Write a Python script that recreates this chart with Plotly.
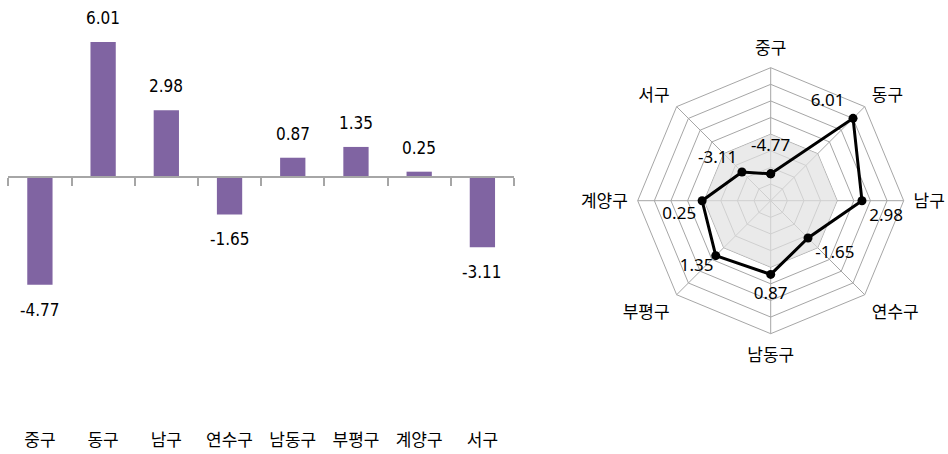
import plotly.graph_objects as go

categories = ["중구", "동구", "남구", "연수구", "남동구", "부평구", "계양구", "서구"]
values = [-4.77, 6.01, 2.98, -1.65, 0.87, 1.35, 0.25, -3.11]
value_labels = ["-4.77", "6.01", "2.98", "-1.65", "0.87", "1.35", "0.25", "-3.11"]
radar_text_pos = ["top center", "top left", "bottom right", "bottom right",
                  "bottom center", "bottom left", "bottom left", "top left"]
radar_text_pad = [28, 12, 10, 10, 18, 2, 8, 6]  # invisible marker sizes to push labels out
baseline = [0, 0, 0, 0, 0, 0, 0, 0]

W, H = 948, 454
BAR_COLOR = "#8064A2"
GRID = "#A6A6A6"
KFONT = "Noto Sans CJK KR, Malgun Gothic, sans-serif"
NFONT = "DejaVu Sans Condensed, Liberation Sans Narrow, Arial Narrow, sans-serif"

# bar plot area in pixels
x_left, x_right = 8.3, 514.0
top_px, bottom_px, zero_px, px_per_unit = 0.0, 428.0, 177.3, 22.5
ymax = (zero_px - top_px) / px_per_unit
ymin = -(bottom_px - zero_px) / px_per_unit
ydom = [1 - bottom_px / H, 1 - top_px / H]
zero_pos = ydom[0] + (0 - ymin) / (ymax - ymin) * (ydom[1] - ydom[0])

fig = go.Figure()
fig.add_trace(go.Bar(x=categories, y=values, marker=dict(color=BAR_COLOR, line=dict(width=0)),
                     width=0.4, xaxis="x", yaxis="y", hoverinfo="x+y"))

for c, v, t in zip(categories, values, value_labels):
    fig.add_annotation(x=c, y=v, xref="x", yref="y", text=t, showarrow=False,
                       yshift=24 if v >= 0 else -25,
                       font=dict(family=NFONT, size=17, color="#000000"))

# radar: grid + zero-shade on an octagonal polar; data on an invisible circular overlay
theta_closed = categories + [categories[0]]
fig.add_trace(go.Scatterpolar(r=baseline + [baseline[0]], theta=theta_closed,
                              mode="lines", fill="toself", fillcolor="rgba(225,225,225,0.7)",
                              line=dict(width=0, color="rgba(0,0,0,0)"), hoverinfo="skip",
                              subplot="polar"))
fig.add_trace(go.Scatterpolar(r=values + [values[0]], theta=theta_closed,
                              mode="lines+markers", line=dict(color="#000000", width=3),
                              marker=dict(color="#000000", size=9, symbol="circle"),
                              subplot="polar2"))
fig.add_trace(go.Scatterpolar(r=values, theta=categories,
                              mode="markers+text",
                              text=value_labels,
                              textposition=radar_text_pos,
                              marker=dict(size=radar_text_pad, color="rgba(0,0,0,0)",
                                          line=dict(width=0)),
                              textfont=dict(family="Noto Sans", size=17, color="#000000"),
                              hoverinfo="skip", subplot="polar2"))

cx, cy, R = 770.7, 200.7, 133.0
pdomain = dict(x=[(cx - R) / W, (cx + R) / W], y=[1 - (cy + R) / H, 1 - (cy - R) / H])
fig.update_layout(
    width=W, height=H,
    margin=dict(l=0, r=0, t=0, b=0),
    paper_bgcolor="white", plot_bgcolor="white",
    showlegend=False,
    xaxis=dict(domain=[x_left / W, x_right / W], type="category", range=[-0.5, 7.5],
               showline=False, showgrid=False, zeroline=False, ticks="",
               tickfont=dict(family=KFONT, size=17, color="#000000"), anchor="y"),
    xaxis2=dict(domain=[x_left / W, x_right / W], type="category", range=[-0.5, 7.5],
                overlaying="x", anchor="free", position=zero_pos, side="bottom",
                categoryorder="array", categoryarray=categories,
                showline=True, linecolor=GRID, linewidth=1.5,
                ticks="outside", tickson="boundaries", ticklen=8, tickcolor=GRID, tickwidth=1.5,
                showticklabels=False, showgrid=False, zeroline=False),
    yaxis=dict(domain=ydom, range=[ymin, ymax], visible=False, showgrid=False, zeroline=False),
    polar=dict(
        domain=pdomain,
        gridshape="linear", bgcolor="white",
        radialaxis=dict(range=[-8, 8], dtick=2, tick0=-8, showticklabels=False, ticks="",
                        showline=False, gridcolor=GRID, gridwidth=1),
        angularaxis=dict(type="category", categoryorder="array", categoryarray=categories,
                         direction="clockwise", rotation=90, showline=True, linecolor=GRID,
                         linewidth=1, gridcolor=GRID, ticks="outside", ticklen=6,
                         tickcolor="rgba(0,0,0,0)",
                         tickfont=dict(family=KFONT, size=17, color="#000000")),
    ),
    polar2=dict(
        domain=pdomain,
        gridshape="circular", bgcolor="rgba(0,0,0,0)",
        radialaxis=dict(range=[-8, 8], visible=False, showgrid=False, showline=False,
                        showticklabels=False, ticks=""),
        angularaxis=dict(type="category", categoryorder="array", categoryarray=categories,
                         direction="clockwise", rotation=90, visible=False, showgrid=False,
                         showline=False, showticklabels=False, ticks=""),
    ),
)
# invisible trace to activate xaxis2
fig.add_trace(go.Scatter(x=categories, y=[None] * len(categories), xaxis="x2", yaxis="y",
                         mode="markers", showlegend=False, hoverinfo="skip"))

fig.write_html("out.html", config={"displayModeBar": False},
               post_script="document.body.style.margin='0';")
